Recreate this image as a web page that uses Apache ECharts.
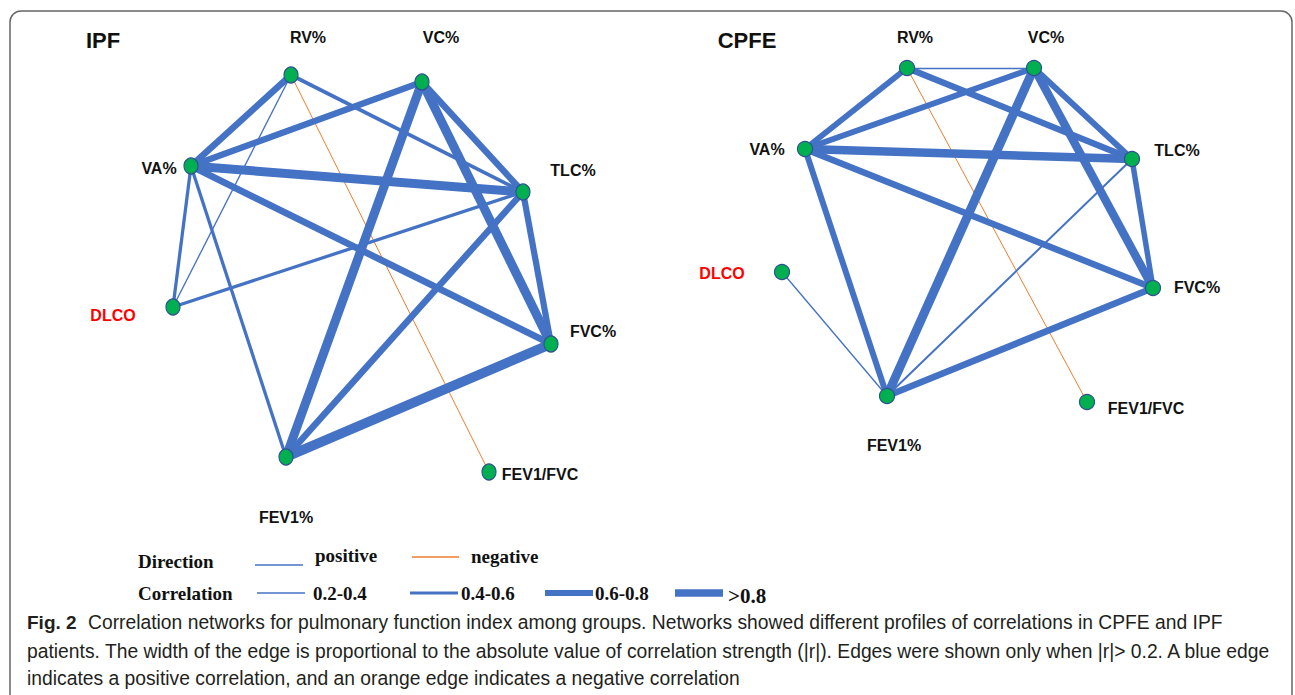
<!DOCTYPE html>
<html>
<head>
<meta charset="utf-8">
<script src="https://cdn.jsdelivr.net/npm/echarts@6/dist/echarts.min.js"></script>
<style>
html,body{margin:0;padding:0;background:#fff;}
#chart{width:1295px;height:695px;}
</style>
</head>
<body>
<div id="chart"></div>
<script>
// ---------- DATA ----------
const nodeNames = ['RV%', 'VC%', 'VA%', 'TLC%', 'DLCO', 'FVC%', 'FEV1%', 'FEV1/FVC'];
// network layout coordinates (panel units)
const ipfX  = [291, 422, 191, 523, 173, 551, 286, 489];
const ipfY  = [75, 82, 166, 192, 307, 344, 457, 472];
const cpfeX = [267, 394, 165, 492, 142, 513, 247, 447];
const cpfeY = [68, 68, 149, 159, 272, 288, 396, 402];
// correlation edges: [source, target, r]
const ipfEdges = [
  ['RV%', 'VA%', 0.70],
  ['RV%', 'DLCO', 0.30],
  ['RV%', 'TLC%', 0.48],
  ['RV%', 'FEV1/FVC', -0.27],
  ['VC%', 'VA%', 0.70],
  ['VC%', 'TLC%', 0.70],
  ['VC%', 'FVC%', 0.90],
  ['VC%', 'FEV1%', 0.90],
  ['VA%', 'TLC%', 0.90],
  ['VA%', 'FVC%', 0.72],
  ['VA%', 'DLCO', 0.45],
  ['VA%', 'FEV1%', 0.45],
  ['TLC%', 'DLCO', 0.45],
  ['TLC%', 'FEV1%', 0.70],
  ['TLC%', 'FVC%', 0.68],
  ['FVC%', 'FEV1%', 0.95]
];
const cpfeEdges = [
  ['RV%', 'VC%', 0.30],
  ['RV%', 'VA%', 0.65],
  ['RV%', 'TLC%', 0.68],
  ['RV%', 'FEV1/FVC', -0.27],
  ['VC%', 'VA%', 0.65],
  ['VC%', 'TLC%', 0.65],
  ['VC%', 'FVC%', 0.85],
  ['VC%', 'FEV1%', 0.90],
  ['VA%', 'TLC%', 0.85],
  ['VA%', 'FVC%', 0.70],
  ['VA%', 'FEV1%', 0.66],
  ['TLC%', 'FVC%', 0.62],
  ['TLC%', 'FEV1%', 0.35],
  ['FVC%', 'FEV1%', 0.72],
  ['DLCO', 'FEV1%', 0.30]
];
const panelTitles = ['IPF', 'CPFE'];
const directionLabels = ['positive', 'negative'];
const strengthLabels = ['0.2-0.4', '0.4-0.6', '0.6-0.8', '>0.8'];
const captionBold = 'Fig. 2';
const captionLines = [
  'Correlation networks for pulmonary function index among groups. Networks showed different profiles of correlations in CPFE and IPF',
  'patients. The width of the edge is proportional to the absolute value of correlation strength (|r|). Edges were shown only when |r|> 0.2. A blue edge',
  'indicates a positive correlation, and an orange edge indicates a negative correlation'
];

// ---------- STYLE ----------
const BLUE = '#4472c4', ORANGE = '#ed7d31', GREEN = '#00b050', NODE_BORDER = '#2f528f';
const labelOffsetsIPF = {
  'RV%': [17, -38], 'VC%': [19, -45], 'VA%': [-32, 2], 'TLC%': [50, -22],
  'DLCO': [-60, 8], 'FVC%': [42, -13], 'FEV1%': [0, 60], 'FEV1/FVC': [51, 2]
};
const labelOffsetsCPFE = {
  'RV%': [8, -31], 'VC%': [12, -31], 'VA%': [-38, 0], 'TLC%': [45, -9],
  'DLCO': [-60, 1], 'FVC%': [44, -1], 'FEV1%': [7, 49], 'FEV1/FVC': [59, 6]
};
function edgeWidth(r) { return Math.max(0.9, 12.8 * Math.abs(r) - 2.5); }

function buildNodes(xs, ys, offsets, size) {
  return nodeNames.map((n, i) => ({
    name: n,
    value: [xs[i], ys[i]],
    symbolSize: size,
    label: {
      show: true, position: 'inside', offset: offsets[n],
      color: n === 'DLCO' ? '#ff0000' : '#111',
      fontFamily: 'Liberation Sans', fontWeight: 'bold', fontSize: 16
    }
  }));
}
function buildLinks(edges) {
  return edges.map(e => ({
    source: e[0], target: e[1],
    lineStyle: { color: e[2] < 0 ? ORANGE : BLUE, width: e[2] < 0 ? 1 : edgeWidth(e[2]), opacity: 1, curveness: 0 }
  }));
}
function graphSeries(idx, xs, ys, edges, offsets, size) {
  return {
    type: 'graph', coordinateSystem: 'cartesian2d', xAxisIndex: idx, yAxisIndex: idx,
    symbol: 'circle',
    itemStyle: { color: GREEN, borderColor: NODE_BORDER, borderWidth: 1.2 },
    data: buildNodes(xs, ys, offsets, size),
    links: buildLinks(edges),
    silent: true, animation: false, z: 3
  };
}

const chart = echarts.init(document.getElementById('chart'), null, { renderer: 'svg' });

const serifBold = 'bold 19px "Liberation Serif"';
function txt(text, x, y, font, fill, align) {
  return { type: 'text', x: x, y: y, silent: true, z: 10,
    style: { text: text, font: font, fill: fill || '#111', textAlign: align || 'left', textVerticalAlign: 'middle', align: align || 'left', verticalAlign: 'middle' } };
}
function seg(x1, x2, y, w, color) {
  return { type: 'line', silent: true, z: 10, shape: { x1: x1, y1: y, x2: x2, y2: y }, style: { stroke: color, lineWidth: w } };
}
const legendStrengthW = [1.5, 3, 6, 7.5];
const legendStrengthX = [257, 410, 545, 675];
const legendTextX = [313, 461, 595, 728];

const graphics = [
  { type: 'rect', silent: true, z: 0, shape: { x: 10, y: 11, width: 1282, height: 710, r: 11 }, style: { fill: 'none', stroke: '#666', lineWidth: 1.5 } },
  txt(panelTitles[0], 103, 40, 'bold 22px "Liberation Sans"', '#111', 'center'),
  txt(panelTitles[1], 747, 40, 'bold 22px "Liberation Sans"', '#111', 'center'),
  txt('Direction', 138, 561, serifBold),
  seg(255, 303, 565, 1.5, BLUE),
  txt(directionLabels[0], 315, 555, serifBold),
  seg(412, 459, 557, 1.5, ORANGE),
  txt(directionLabels[1], 471, 556, serifBold),
  txt('Correlation', 138, 593, serifBold)
];
strengthLabels.forEach((s, i) => {
  graphics.push(seg(legendStrengthX[i], legendStrengthX[i] + 48, 593, legendStrengthW[i], BLUE));
  graphics.push(txt(s, legendTextX[i], i === 3 ? 596 : 593, i === 3 ? 'bold 21px "Liberation Serif"' : serifBold));
});
const capFont = '19.3px "Liberation Sans"';
const capY = [622, 651, 678];
graphics.push(txt(captionBold, 27, capY[0], 'bold 19px "Liberation Sans"', '#231f20'));
captionLines.forEach((l, i) => graphics.push(txt(l, i === 0 ? 88 : 27, capY[i], capFont, '#231f20')));

const hiddenAxis = (min, max, inverse) => ({ type: 'value', min: min, max: max, inverse: !!inverse, show: false, splitLine: { show: false } });

chart.setOption({
  animation: false,
  backgroundColor: '#fff',
  grid: [
    { left: 0, top: 0, width: 640, height: 695 },
    { left: 640, top: 0, width: 655, height: 695 }
  ],
  xAxis: [ { ...hiddenAxis(0, 640), gridIndex: 0 }, { ...hiddenAxis(0, 655), gridIndex: 1 } ],
  yAxis: [ { ...hiddenAxis(0, 695, true), gridIndex: 0 }, { ...hiddenAxis(0, 695, true), gridIndex: 1 } ],
  series: [
    graphSeries(0, ipfX, ipfY, ipfEdges, labelOffsetsIPF, [14, 16]),
    graphSeries(1, cpfeX, cpfeY, cpfeEdges, labelOffsetsCPFE, 15)
  ],
  graphic: graphics
});
</script>
</body>
</html>
